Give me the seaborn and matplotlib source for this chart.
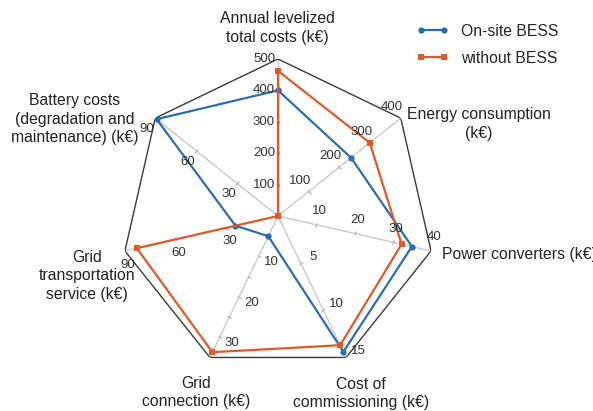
import numpy as np
import pandas as pd
import matplotlib
matplotlib.use("Agg")
import matplotlib.pyplot as plt
import seaborn as sns
from matplotlib.lines import Line2D
from matplotlib.markers import MarkerStyle
from matplotlib.transforms import Affine2D

# Spider axes (clockwise from the top)
categories = [
    "Annual levelized\ntotal costs (k€)",
    "Energy consumption\n(k€)",
    "Power converters (k€)",
    "Cost of\ncommissioning (k€)",
    "Grid\nconnection (k€)",
    "Grid\ntransportation\nservice (k€)",
    "Battery costs\n(degradation and\nmaintenance) (k€)",
]
axis_max = [500, 400, 40, 15, 35, 90, 90]
tick_labels = [
    [100, 200, 300, 400, 500],
    [100, 200, 300, 400],
    [10, 20, 30, 40],
    [5, 10, 15],
    [10, 20, 30],
    [30, 60, 90],
    [30, 60, 90],
]
minor_ticks = [
    [100, 200, 300, 400],
    [100, 200, 300],
    [10, 20, 30],
    [5, 10],
    [5, 10, 15, 20, 25, 30],
    [30, 60],
    [30, 60],
]

series_names = ["On-site BESS", "without BESS"]
onsite_bess = [400, 238, 35, 14.4, 5, 25, 89]
without_bess = [462, 299, 32.3, 13.7, 33.7, 83, 0]

colors = {"On-site BESS": "#2b6db3", "without BESS": "#e0592a"}
markers = {"On-site BESS": "o", "without BESS": "s"}

n = len(categories)
theta = np.arange(n) * 2 * np.pi / n
theta_closed = np.append(theta, 2 * np.pi)

rows = []
for name, vals in zip(series_names, [onsite_bess, without_bess]):
    norm = [v / m for v, m in zip(vals, axis_max)]
    norm.append(norm[0])
    for k, (t, r) in enumerate(zip(theta_closed, norm)):
        rows.append({"angle": t, "radius": r, "scenario": name, "order": k})
df = pd.DataFrame(rows)

sns.set_theme(style="white")
plt.rcParams["font.family"] = ["Liberation Sans", "DejaVu Sans"]

W, H = 593, 411
fig = plt.figure(figsize=(W / 100, H / 100), dpi=100)
cx, cy, R = 278, 216, 157
ax = fig.add_axes([(cx - R) / W, (H - cy - R) / H, 2 * R / W, 2 * R / H],
                  projection="polar")
ax.set_theta_zero_location("N")
ax.set_theta_direction(-1)
ax.grid(False)
ax.spines["polar"].set_visible(False)
ax.set_xticks([])
ax.set_yticks([])
ax.patch.set_alpha(0)

# spokes and outer frame
for t in theta:
    ax.plot([t, t], [0, 1], color="#c9c9c9", lw=1.0, zorder=1)
ax.plot(theta_closed, np.ones(n + 1), color="#3a3a3a", lw=1.0, zorder=1)

# small tick marks along each spoke
for i, t in enumerate(theta):
    a = np.degrees(t)
    ms = MarkerStyle("|", transform=Affine2D().rotate_deg(90 - a))
    rr = [v / axis_max[i] for v in minor_ticks[i]]
    ax.plot([t] * len(rr), rr, ls="none", marker=ms, markersize=3.5,
            color="#b5b5b5", mew=0.9, zorder=1)

sns.lineplot(data=df, x="angle", y="radius", hue="scenario", style="scenario",
             palette=colors, markers=markers, dashes=False, sort=False,
             estimator=None, units="scenario", legend=False, lw=1.6,
             markersize=4.5, markeredgewidth=0, ax=ax, zorder=3)
ax.set_xlabel("")
ax.set_ylabel("")
ax.set_ylim(0, 1)

# numeric labels beside each spoke
off = 14
for i, t in enumerate(theta):
    px, py = -np.cos(t), np.sin(t)
    for v in tick_labels[i]:
        ax.annotate(str(v), xy=(t, v / axis_max[i]),
                    xytext=(px * off, py * off), textcoords="offset pixels",
                    ha="center", va="center", fontsize=9.5, color="#333333",
                    annotation_clip=False)

# category names
label_offsets = [(-1, 31), (78, -6), (11, -4), (15, -36), (-14, -35),
                 (-38, -25), (-81, -1)]
label_ha = ["center", "center", "left", "center", "center", "center", "center"]
for i, t in enumerate(theta):
    ax.annotate(categories[i], xy=(t, 1), xytext=label_offsets[i],
                textcoords="offset pixels", ha=label_ha[i], va="center",
                fontsize=11.3, color="#222222", linespacing=1.3,
                annotation_clip=False)

handles = [Line2D([], [], color=colors[s], marker=markers[s], lw=1.6,
                  markersize=4.5, markeredgewidth=0) for s in series_names]
fig.legend(handles, series_names, loc="upper left",
           bbox_to_anchor=(408 / W, 1 - 16 / H), frameon=False, borderpad=0,
           handlelength=2.1, handletextpad=0.8, labelspacing=0.75,
           numpoints=2, fontsize=11.3)

fig.savefig("out.png", dpi=100)
